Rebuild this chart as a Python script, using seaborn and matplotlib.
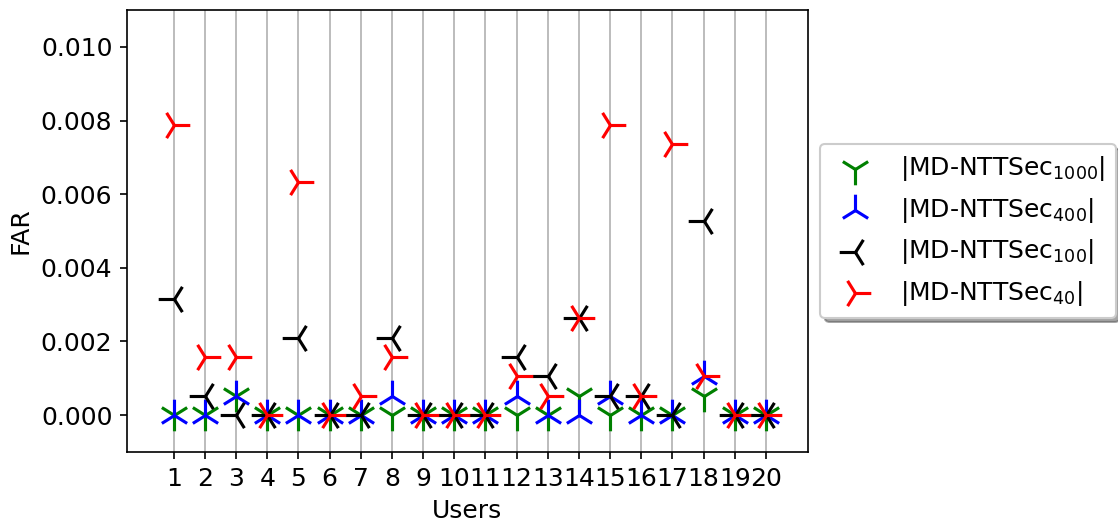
import numpy as np
import pandas as pd
import matplotlib
matplotlib.use("Agg")
import matplotlib.pyplot as plt
import seaborn as sns

users = list(range(1, 21))
far_1000 = [0, 0, 0.00053, 0, 0, 0, 0, 0, 0, 0, 0, 0, 0, 0.00053, 0, 0, 0, 0.00053, 0, 0]
far_400 = [0, 0, 0.00053, 0, 0, 0, 0, 0.00053, 0, 0, 0, 0.00053, 0, 0, 0.00053, 0, 0, 0.00105, 0, 0]
far_100 = [0.00316, 0.00053, 0, 0, 0.0021, 0, 0, 0.0021, 0, 0, 0, 0.00158, 0.00105, 0.00263, 0.00053, 0.00053, 0, 0.00526, 0, 0]
far_40 = [0.00789, 0.00158, 0.00158, 0, 0.00632, 0, 0.00053, 0.00158, 0, 0, 0, 0.00105, 0.00053, 0.00263, 0.00789, 0.00053, 0.00737, 0.00105, 0, 0]

series = [
    (far_1000, r"|MD-NTTSec$_{1000}$|", "green", "1"),
    (far_400, r"|MD-NTTSec$_{400}$|", "blue", "2"),
    (far_100, r"|MD-NTTSec$_{100}$|", "black", "3"),
    (far_40, r"|MD-NTTSec$_{40}$|", "red", "4"),
]

plt.rcParams["font.size"] = 12
DPI = 150
fig, ax = plt.subplots(figsize=(1118 / DPI, 529 / DPI), dpi=DPI)
fig.subplots_adjust(left=0.1136, right=0.7227, top=0.981, bottom=0.1456)

for vals, label, color, marker in series:
    df = pd.DataFrame({"user": users, "far": vals})
    sns.scatterplot(data=df, x="user", y="far", marker=marker, color=color,
                    s=230, linewidth=1.5, label=label, ax=ax, zorder=3)

ax.set_xticks(users)
ax.set_xlim(-0.5, 21.35)
ax.set_ylim(-0.001, 0.011)
ax.set_yticks(np.arange(0, 0.0101, 0.002))
ax.grid(axis="x", color="#b0b0b0")
ax.set_axisbelow(True)
ax.set_xlabel("Users")
ax.set_ylabel("FAR")
ax.legend(loc="center left", bbox_to_anchor=(1.0, 0.5), shadow=True)

fig.savefig("out.png", dpi=DPI)
